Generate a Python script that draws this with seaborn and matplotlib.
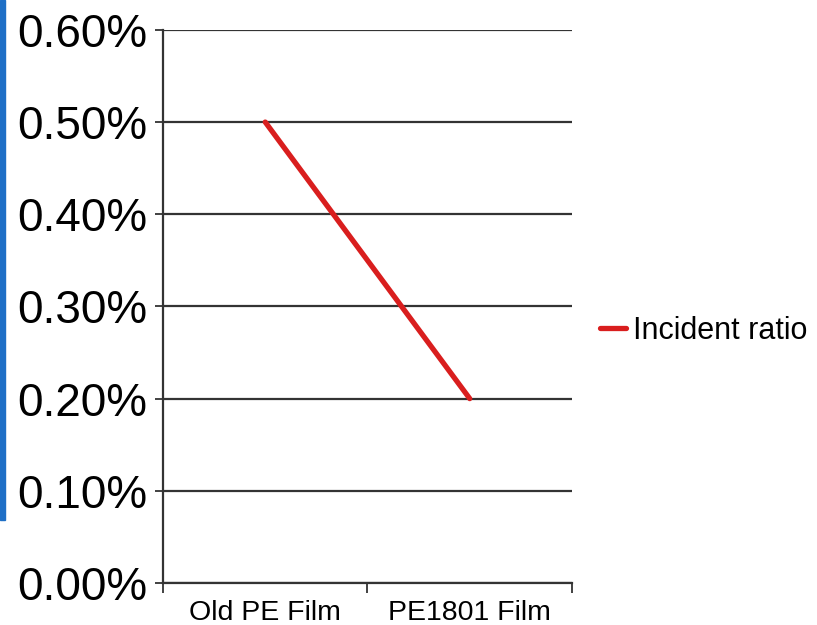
"""Incident ratio: old PE film vs PE1801 film."""
import matplotlib
matplotlib.use('Agg')
import matplotlib.pyplot as plt
import pandas as pd
import seaborn as sns
from matplotlib.patches import Rectangle
from matplotlib.ticker import FuncFormatter, FixedLocator

films = ['Old PE Film', 'PE1801 Film']
incident_ratio = [0.005, 0.002]
y_ticks = [0.0, 0.001, 0.002, 0.003, 0.004, 0.005, 0.006]
series_name = 'Incident ratio'

sns.set_style('white')
plt.rcParams['font.family'] = ['Liberation Sans', 'DejaVu Sans']
plt.rcParams['text.color'] = 'black'
plt.rcParams['xtick.labelcolor'] = 'black'
plt.rcParams['ytick.labelcolor'] = 'black'

df = pd.DataFrame({'film': films, 'ratio': incident_ratio})

fig = plt.figure(figsize=(8.17, 6.25), dpi=100)
ax = fig.add_axes([0.1995, 0.0672, 0.5006, 0.885])

# blue accent bar on the left edge of the slide
fig.patches.append(Rectangle((0, 1 - 520 / 625), 5 / 817, 520 / 625,
                             transform=fig.transFigure, color='#1e6fc6',
                             zorder=0))

sns.lineplot(data=df, x='film', y='ratio', ax=ax, color='#d91e1e',
             linewidth=3.8, label=series_name, zorder=3)

ax.set_ylim(0, 0.006)
ax.set_xlim(-0.5, 1.5)
ax.set_yticks(y_ticks)
ax.yaxis.set_major_formatter(FuncFormatter(lambda v, p: f'{v * 100:.2f}%'))
ax.grid(axis='y', color='#333333', linewidth=1.6)
ax.set_axisbelow(True)

# category labels centred, tick marks at the band edges
ax.set_xticks([0, 1])
ax.set_xticklabels(films)
ax.xaxis.set_minor_locator(FixedLocator([-0.5, 0.5, 1.5]))
ax.tick_params(axis='x', which='major', length=0, pad=12, labelsize=20.5,
               labelcolor='black')
ax.tick_params(axis='x', which='minor', length=7, width=1.3,
               color='#333333', direction='out', bottom=True)
ax.tick_params(axis='y', length=6, width=1.3, color='#333333',
               direction='out', left=True, pad=5, labelsize=33,
               labelcolor='black')

for side in ['top', 'right']:
    ax.spines[side].set_visible(False)
for side in ['left', 'bottom']:
    ax.spines[side].set_color('#333333')
    ax.spines[side].set_linewidth(1.6)

ax.set_xlabel('')
ax.set_ylabel('')

leg = ax.legend(loc='center left', bbox_to_anchor=(1.068, 0.456),
                frameon=False, fontsize=22, handlelength=0.85,
                handletextpad=0.25, borderpad=0, borderaxespad=0)
for t in leg.get_texts():
    t.set_color('black')

fig.savefig('out.png', dpi=100, facecolor='white')
